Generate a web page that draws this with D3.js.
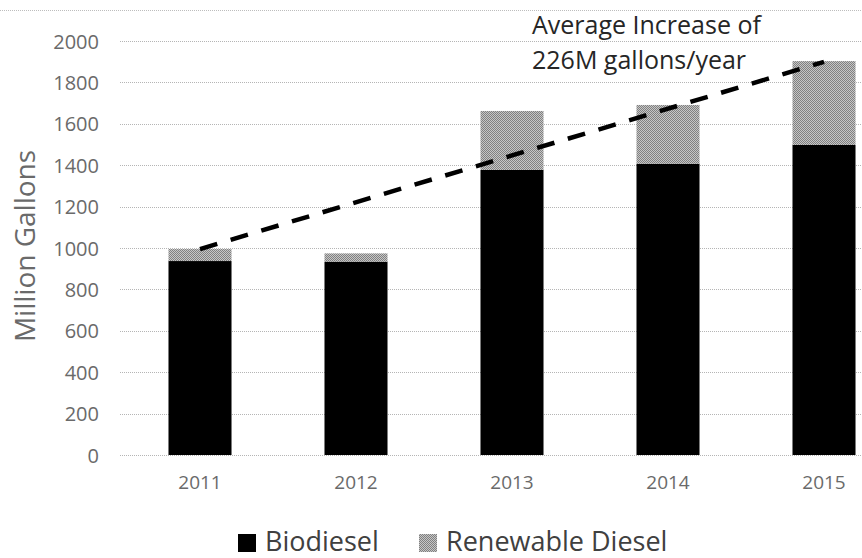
<!DOCTYPE html>
<html>
<head>
<meta charset="utf-8">
<script src="https://cdn.jsdelivr.net/npm/d3@7"></script>
<style>
  html, body { margin: 0; padding: 0; background: #fff; }
  svg { display: block; }
</style>
</head>
<body>
<svg id="chart" width="862" height="558"></svg>
<script>
// ---- data ----
const years = ["2011", "2012", "2013", "2014", "2015"];
const biodiesel = [937, 934, 1377, 1407, 1498];
const renewableDiesel = [58, 40, 285, 284, 405];
const yTicks = [0, 200, 400, 600, 800, 1000, 1200, 1400, 1600, 1800, 2000];
const trendYears = ["2011", "2015"];
const trendValues = [995, 1899];
const seriesNames = ["Biodiesel", "Renewable Diesel"];
const annotationLines = ["Average Increase of", "226M gallons/year"];
const yTitle = "Million Gallons";

// ---- layout ----
const W = 862, H = 558;
const svg = d3.select("#chart");
const font = "'Open Sans', 'Liberation Sans', sans-serif";

const x = d3.scaleBand().domain(years).range([122, 902])
  .paddingInner(0.596).paddingOuter(0.298);
const y = d3.scaleLinear().domain([0, 2000]).range([455, 41]);

const defs = svg.append("defs");
const pat = defs.append("pattern").attr("id", "rdPat")
  .attr("width", 2).attr("height", 2).attr("patternUnits", "userSpaceOnUse");
pat.append("rect").attr("width", 2).attr("height", 2).attr("fill", "#c6c6c6");
pat.append("rect").attr("width", 1).attr("height", 1).attr("fill", "#808080");
pat.append("rect").attr("x", 1).attr("y", 1).attr("width", 1).attr("height", 1).attr("fill", "#808080");

// frame top line
svg.append("line").attr("x1", 0).attr("x2", W).attr("y1", 10.5).attr("y2", 10.5)
  .attr("stroke", "#bdbdbd").attr("stroke-width", 1).attr("stroke-dasharray", "1,1");

// gridlines
svg.append("g").selectAll("line").data(yTicks).join("line")
  .attr("x1", 120).attr("x2", W)
  .attr("y1", d => Math.round(y(d)) + 0.5).attr("y2", d => Math.round(y(d)) + 0.5)
  .attr("stroke", "#b5b5b5").attr("stroke-width", 1).attr("stroke-dasharray", "1,1");

// y axis labels
const yAxis = d3.axisLeft(y).tickValues(yTicks).tickFormat(d3.format("d")).tickSize(0).tickPadding(0);
const gy = svg.append("g").attr("transform", "translate(99,0)").call(yAxis);
gy.select(".domain").remove();
gy.selectAll("text").attr("font-family", font).attr("font-size", 20)
  .attr("fill", "#6a6a6a").attr("dy", "0.35em");

// x axis labels
const xAxis = d3.axisBottom(x).tickSize(0).tickPadding(0);
const gx = svg.append("g").attr("transform", "translate(0,475)").call(xAxis);
gx.select(".domain").remove();
gx.selectAll("text").attr("font-family", font).attr("font-size", 19)
  .attr("fill", "#6a6a6a").attr("dy", "0.71em");

// stacked bars
const rows = years.map((yr, i) => ({ year: yr, bio: biodiesel[i], rd: renewableDiesel[i] }));
const stack = d3.stack().keys(["bio", "rd"])(rows);
const fills = ["#000000", "url(#rdPat)"];
svg.append("g").selectAll("g").data(stack).join("g")
  .attr("fill", (d, i) => fills[i])
  .selectAll("rect").data(d => d).join("rect")
  .attr("x", d => x(d.data.year))
  .attr("width", x.bandwidth())
  .attr("y", d => y(d[1]))
  .attr("height", d => y(d[0]) - y(d[1]));

// trend line
const trend = trendYears.map((t, i) => ({ year: t, v: trendValues[i] }));
svg.append("path").datum(trend)
  .attr("d", d3.line().x(d => x(d.year) + x.bandwidth() / 2).y(d => y(d.v)))
  .attr("fill", "none").attr("stroke", "#000").attr("stroke-width", 4.5)
  .attr("stroke-dasharray", "18,14");

// annotation
const ann = svg.append("text").attr("font-family", font).attr("font-size", 25)
  .attr("fill", "#262626");
annotationLines.forEach((t, i) => {
  ann.append("tspan").attr("x", 532).attr("y", 34 + i * 35).text(t);
});

// y title
svg.append("text")
  .attr("transform", "translate(35,246) rotate(-90)")
  .attr("text-anchor", "middle")
  .attr("font-family", font).attr("font-size", 28)
  .attr("fill", "#6a6a6a").text(yTitle);

// legend
const legX = [238, 419];
const leg = svg.append("g");
seriesNames.forEach((name, i) => {
  leg.append("rect").attr("x", legX[i]).attr("y", 534).attr("width", 18).attr("height", 18)
    .attr("fill", fills[i]);
  leg.append("text").attr("x", legX[i] + 27).attr("y", 551)
    .attr("font-family", font).attr("font-size", 27).attr("fill", "#404040").text(name);
});
</script>
</body>
</html>
